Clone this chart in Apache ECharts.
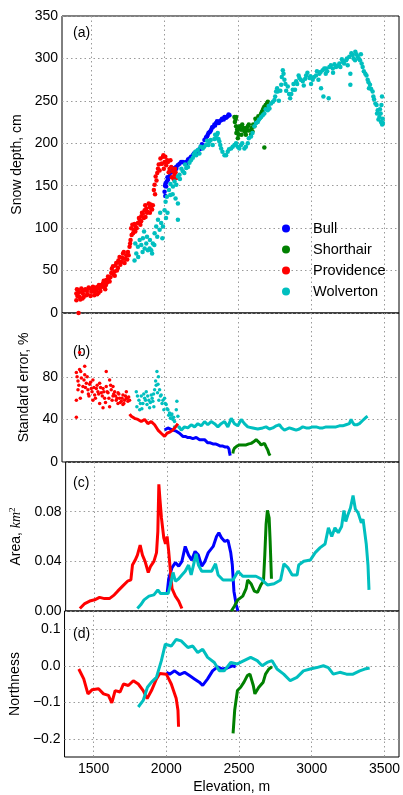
<!DOCTYPE html>
<html>
<head>
<meta charset="utf-8">
<script src="https://cdn.jsdelivr.net/npm/echarts@6.0.0/dist/echarts.min.js"></script>
<style>
  html, body { margin: 0; padding: 0; background: #fff; }
  #chart { width: 403px; height: 795px; }
</style>
</head>
<body>
<div id="chart"></div>
<script>
// elevation ticks shared by all panels
var elevTicks = [1500, 2000, 2500, 3000, 3500];
var sites = ['Bull', 'Shorthair', 'Providence', 'Wolverton'];

// (a) snow depth, cm
var bullDepth = [[2000,143],[2003,150],[2005,138],[2007,153],[2011,149],[2015,155],[2020,160],[2023,157],[2034,161],[2036,165],[2045,166],[2057,168],[2068,171],[2079,172],[2080,170],[2090,174],[2102,176],[2113,178],[2125,178],[2135,177],[2147,178],[2148,176],[2160,181],[2170,182],[2181,184],[2193,186],[2200,188],[2215,190],[2227,189],[2238,193],[2249,194],[2255,199],[2260,198],[2272,204],[2283,207],[2290,208],[2295,210],[2300,212],[2306,213],[2312,214],[2318,216],[2325,219],[2329,219],[2340,222],[2345,221],[2352,224],[2358,226],[2363,225],[2370,224],[2375,226],[2386,227],[2392,229],[2398,229],[2404,228],[2409,231],[2420,230],[2425,231],[2431,232],[2437,234],[2443,233]];
var shorthairDepth = [[2477,231],[2480,225],[2485,228],[2488,220],[2490,212],[2495,216],[2499,212],[2500,206],[2505,210],[2510,218],[2515,220],[2522,216],[2525,210],[2530,222],[2540,218],[2545,214],[2550,214],[2555,210],[2560,218],[2565,215],[2568,220],[2575,222],[2580,215],[2590,210],[2595,218],[2600,214],[2605,222],[2613,220],[2620,229],[2625,225],[2636,227],[2640,232],[2647,231],[2652,230],[2659,235],[2665,237],[2670,239],[2675,241],[2681,243],[2690,245],[2695,244],[2699,247],[2705,249],[2681,195],[2489,231]];
var providenceDepth = [[1398,23],[1398,15],[1402,28],[1405,20],[1409,27],[1413,0],[1415,24],[1420,19],[1425,16],[1432,29],[1436,25],[1440,17],[1443,23],[1448,19],[1455,27],[1460,28],[1466,21],[1470,26],[1475,22],[1482,30],[1489,29],[1495,20],[1500,25],[1505,28],[1511,31],[1515,26],[1520,21],[1523,25],[1528,30],[1534,27],[1540,22],[1545,31],[1550,24],[1552,33],[1557,29],[1562,26],[1568,33],[1575,31],[1580,35],[1585,38],[1591,31],[1595,28],[1600,33],[1602,39],[1608,36],[1614,43],[1618,40],[1625,37],[1630,42],[1636,47],[1640,52],[1648,55],[1652,45],[1659,49],[1660,44],[1665,56],[1670,59],[1675,50],[1682,53],[1685,62],[1690,60],[1693,66],[1698,57],[1705,60],[1710,65],[1716,70],[1720,64],[1722,72],[1727,59],[1733,64],[1739,68],[1745,63],[1750,72],[1755,68],[1761,78],[1765,82],[1768,86],[1772,100],[1775,92],[1780,104],[1785,94],[1789,98],[1795,105],[1800,96],[1802,102],[1810,100],[1818,106],[1825,112],[1830,110],[1835,104],[1840,108],[1841,114],[1846,118],[1852,117],[1858,112],[1864,121],[1868,127],[1870,113],[1875,123],[1880,118],[1886,119],[1892,129],[1898,125],[1900,118],[1905,128],[1909,123],[1915,122],[1920,127],[1927,145],[1932,151],[1935,140],[1939,161],[1945,156],[1950,165],[1955,170],[1960,175],[1966,168],[1972,182],[1977,176],[1982,176],[1989,184],[1992,186],[1995,170],[2000,178],[2005,184],[2011,174],[2018,180],[2023,178],[2028,166],[2034,170],[2040,180],[2045,172],[2050,160],[2057,167],[2062,158],[2068,163],[2070,170],[2075,166],[2080,159]];
var wolvertonDepth = [[1795,62],[1800,82],[1807,70],[1818,78],[1820,66],[1830,86],[1841,80],[1850,72],[1852,88],[1860,96],[1864,76],[1875,82],[1880,90],[1886,74],[1898,76],[1900,86],[1909,74],[1915,70],[1920,82],[1930,80],[1932,94],[1943,102],[1950,90],[1955,110],[1966,98],[1970,118],[1977,106],[1985,88],[1989,102],[2000,121],[2007,131],[2010,112],[2016,137],[2020,118],[2030,145],[2039,139],[2040,152],[2055,140],[2057,149],[2068,155],[2075,135],[2080,151],[2091,129],[2091,110],[2091,161],[2102,163],[2105,158],[2115,170],[2125,167],[2135,165],[2140,175],[2148,171],[2160,172],[2170,177],[2180,180],[2193,183],[2200,187],[2210,190],[2216,186],[2227,192],[2238,188],[2245,196],[2261,194],[2270,196],[2283,198],[2290,203],[2300,198],[2306,202],[2315,204],[2329,198],[2340,205],[2345,210],[2352,206],[2358,210],[2363,212],[2368,205],[2374,202],[2380,198],[2386,194],[2395,190],[2409,186],[2420,186],[2431,190],[2440,193],[2454,194],[2465,196],[2477,198],[2488,200],[2499,196],[2510,194],[2522,198],[2530,200],[2545,194],[2555,196],[2568,200],[2575,206],[2590,208],[2600,212],[2613,220],[2625,224],[2636,225],[2645,228],[2659,231],[2670,233],[2681,235],[2690,240],[2704,239],[2710,244],[2716,241],[2727,247],[2740,249],[2750,251],[2755,255],[2761,261],[2768,265],[2773,261],[2780,250],[2790,262],[2796,269],[2800,278],[2807,286],[2812,282],[2818,275],[2825,270],[2830,262],[2841,267],[2850,258],[2857,253],[2865,258],[2875,263],[2880,270],[2890,263],[2898,273],[2905,270],[2915,280],[2920,277],[2930,275],[2943,273],[2950,268],[2960,276],[2966,280],[2975,283],[2989,277],[2995,279],[3000,270],[3011,275],[3020,278],[3034,280],[3040,285],[3050,275],[3057,282],[3065,284],[3068,265],[3079,286],[3084,255],[3090,288],[3100,282],[3102,288],[3110,285],[3120,253],[3125,290],[3135,292],[3148,288],[3150,283],[3160,293],[3170,290],[3180,291],[3193,294],[3200,290],[3210,299],[3216,296],[3225,294],[3239,298],[3245,300],[3250,292],[3261,302],[3268,282],[3268,269],[3275,306],[3284,304],[3290,300],[3300,298],[3302,308],[3310,305],[3318,302],[3325,300],[3334,298],[3340,305],[3345,294],[3352,290],[3360,285],[3370,282],[3378,280],[3386,275],[3392,272],[3395,265],[3402,269],[3410,264],[3420,261],[3425,255],[3430,252],[3439,247],[3447,245],[3450,235],[3455,239],[3460,228],[3466,231],[3470,240],[3475,235],[3477,225],[3480,245],[3484,255],[3485,222],[3489,229],[3490,224]];

// (b) standard error, %
var bullErr = [[2000,30],[2011,31],[2023,32],[2040,31],[2057,30],[2080,29],[2102,27],[2125,24],[2142,24],[2159,23],[2176,23],[2193,22],[2216,23],[2239,21],[2256,21],[2273,21],[2295,18],[2312,18],[2330,17],[2347,17],[2364,16],[2381,15],[2398,15],[2415,14],[2432,14],[2440,12],[2443,9],[2448,6]];
var shorthairErr = [[2466,8],[2470,11],[2477,13],[2494,15],[2511,16],[2534,16],[2557,16],[2575,17],[2591,17.5],[2608,19],[2625,21],[2636,21],[2648,18],[2659,16],[2670,17],[2682,17.5],[2694,14],[2705,11],[2712,8],[2720,6]];
var providenceErrCloud = [[1398,84],[1398,58],[1398,42],[1403,80],[1409,76],[1409,68],[1415,72],[1420,87],[1420,103],[1425,60],[1428,85],[1432,79],[1438,66],[1443,71],[1450,77],[1455,82],[1455,90],[1460,70],[1466,74],[1472,80],[1477,68],[1480,64],[1484,62],[1489,73],[1495,75],[1500,69],[1505,66],[1511,77],[1511,58],[1518,70],[1523,63],[1528,60],[1534,69],[1540,72],[1545,66],[1550,64],[1557,74],[1557,55],[1563,70],[1568,65],[1575,62],[1580,69],[1580,51],[1585,66],[1591,60],[1597,56],[1602,71],[1602,85],[1608,66],[1614,65],[1620,60],[1625,77],[1625,52],[1632,72],[1636,68],[1642,58],[1648,62],[1648,71],[1653,64],[1659,66],[1665,62],[1670,58],[1676,60],[1682,65],[1682,55],[1688,64],[1693,60],[1698,56],[1705,57],[1710,60],[1716,63],[1716,54],[1722,55],[1727,58],[1733,62],[1739,60],[1739,66],[1745,60],[1750,57],[1755,61],[1761,58]];
var providenceErrLine = [[1761,45],[1773,43],[1795,41],[1818,40],[1841,38],[1864,40],[1886,36],[1909,38],[1932,35],[1955,30],[1977,27],[2000,24],[2016,27],[2034,28],[2057,30],[2075,33],[2091,36]];
var wolvertonErrCloud = [[1807,66],[1811,52],[1815,62],[1825,58],[1830,49],[1835,55],[1841,62],[1845,50],[1852,55],[1858,64],[1864,60],[1870,58],[1875,66],[1880,54],[1885,62],[1893,58],[1898,51],[1903,56],[1909,63],[1915,60],[1920,57],[1925,64],[1927,52],[1932,68],[1939,76],[1943,72],[1948,85],[1952,65],[1955,73],[1958,80],[1961,58],[1966,68],[1972,62],[1977,63],[1983,55],[1989,58],[1995,49],[2000,60],[2005,55],[2011,54],[2017,50],[2023,49],[2028,44],[2034,46],[2040,41],[2045,44],[2050,45],[2057,40],[2062,42],[2068,38],[2068,33],[2080,49],[2084,57],[2091,43],[2098,33]];
var wolvertonErrLine = [[2098,33],[2114,30],[2136,33],[2159,32],[2182,35],[2205,33],[2227,36],[2250,34],[2273,38],[2295,35],[2318,38],[2341,36],[2364,33],[2386,36],[2409,38],[2432,33],[2455,41],[2477,36],[2500,34],[2523,40],[2545,36],[2568,33],[2602,32],[2636,31],[2648,30],[2670,32],[2693,33],[2716,31],[2739,32],[2762,34],[2784,35],[2800,32],[2818,30],[2852,32],[2875,31],[2898,30],[2920,31],[2943,33],[2966,32],[2989,32],[3011,33],[3034,33],[3057,32],[3080,32],[3103,33],[3125,33],[3148,33],[3170,33],[3193,34],[3216,34],[3238,35],[3261,36],[3273,40],[3284,37],[3295,35],[3313,35],[3330,36],[3341,37],[3352,39],[3364,40],[3375,42],[3386,43]];

// (c) area, km^2
var bullArea = [[2000,0.014],[2011,0.026],[2034,0.035],[2057,0.039],[2080,0.036],[2102,0.040],[2125,0.052],[2148,0.045],[2170,0.041],[2193,0.048],[2216,0.045],[2239,0.036],[2261,0.040],[2284,0.047],[2318,0.052],[2341,0.060],[2357,0.063],[2375,0.059],[2398,0.056],[2420,0.057],[2439,0.047],[2450,0.037],[2461,0.016],[2477,0.005],[2489,0.0]];
var shorthairArea = [[2443,0.0],[2465,0.004],[2488,0.009],[2522,0.012],[2545,0.018],[2556,0.025],[2579,0.022],[2602,0.016],[2624,0.015],[2647,0.021],[2665,0.024],[2674,0.045],[2683,0.070],[2692,0.081],[2704,0.075],[2711,0.056],[2720,0.026]];
var providenceArea = [[1398,0.002],[1432,0.006],[1466,0.008],[1500,0.009],[1534,0.011],[1568,0.010],[1602,0.010],[1636,0.013],[1659,0.016],[1693,0.020],[1727,0.024],[1750,0.025],[1761,0.037],[1780,0.041],[1795,0.045],[1814,0.053],[1830,0.045],[1848,0.040],[1870,0.031],[1886,0.036],[1909,0.040],[1927,0.047],[1936,0.064],[1943,0.102],[1950,0.091],[1961,0.075],[1977,0.059],[1989,0.054],[2000,0.060],[2011,0.048],[2023,0.032],[2034,0.018],[2057,0.012],[2080,0.008],[2102,0.002]];
var wolvertonArea = [[1795,0.002],[1818,0.005],[1841,0.009],[1875,0.012],[1909,0.013],[1936,0.017],[1955,0.014],[1989,0.014],[2007,0.014],[2023,0.021],[2041,0.031],[2057,0.024],[2080,0.026],[2102,0.029],[2125,0.032],[2148,0.037],[2166,0.029],[2182,0.037],[2200,0.046],[2216,0.037],[2239,0.032],[2273,0.032],[2307,0.032],[2334,0.038],[2352,0.029],[2386,0.025],[2420,0.025],[2455,0.025],[2489,0.032],[2522,0.028],[2568,0.028],[2613,0.028],[2647,0.026],[2692,0.021],[2738,0.022],[2783,0.025],[2806,0.038],[2833,0.035],[2863,0.029],[2897,0.029],[2908,0.037],[2943,0.040],[2988,0.041],[3022,0.047],[3056,0.051],[3090,0.054],[3113,0.067],[3136,0.060],[3158,0.067],[3181,0.063],[3204,0.068],[3220,0.081],[3233,0.072],[3249,0.078],[3265,0.083],[3283,0.093],[3299,0.082],[3318,0.079],[3340,0.071],[3352,0.074],[3374,0.054],[3386,0.037],[3393,0.017]];

// (d) northness
var bullNorth = [[2000,-0.018],[2023,-0.023],[2057,-0.014],[2091,-0.024],[2125,-0.018],[2159,-0.027],[2193,-0.036],[2227,-0.045],[2250,-0.054],[2284,-0.036],[2318,-0.014],[2352,-0.003],[2386,-0.009],[2420,-0.006],[2455,0.0],[2477,-0.003]];
var shorthairNorth = [[2459,-0.185],[2470,-0.122],[2489,-0.068],[2511,-0.059],[2534,-0.045],[2557,-0.027],[2575,-0.023],[2598,-0.054],[2609,-0.077],[2636,-0.059],[2666,-0.045],[2682,-0.023],[2705,-0.009],[2727,-0.003]];
var providenceNorth = [[1398,-0.009],[1432,-0.036],[1461,-0.077],[1489,-0.066],[1534,-0.063],[1568,-0.077],[1602,-0.081],[1625,-0.102],[1648,-0.068],[1682,-0.072],[1705,-0.05],[1739,-0.054],[1773,-0.041],[1807,-0.05],[1841,-0.068],[1868,-0.09],[1898,-0.068],[1932,-0.036],[1955,-0.021],[2000,-0.023],[2034,-0.05],[2068,-0.09],[2080,-0.122],[2084,-0.167]];
var wolvertonNorth = [[1807,-0.113],[1841,-0.095],[1870,-0.059],[1898,-0.045],[1932,-0.032],[1966,0.014],[1993,0.059],[2034,0.054],[2068,0.072],[2102,0.068],[2148,0.05],[2182,0.054],[2216,0.036],[2250,0.045],[2284,0.023],[2330,0.009],[2364,-0.014],[2398,-0.014],[2443,0.009],[2489,0.005],[2534,0.014],[2580,0.023],[2625,0.014],[2659,0.0],[2693,0.009],[2727,0.014],[2761,-0.009],[2807,-0.023],[2852,-0.041],[2898,-0.032],[2943,-0.014],[2989,-0.009],[3034,-0.005],[3080,0.0],[3114,-0.005],[3148,-0.023],[3193,-0.018],[3239,-0.023],[3284,-0.023],[3330,-0.014],[3364,-0.009],[3398,-0.006]];

var colors = { Bull: '#0000ff', Shorthair: '#008000', Providence: '#ff0000', Wolverton: '#00bfbf' };
var font = 'Liberation Sans, Arial, Helvetica, sans-serif';

var chart = echarts.init(document.getElementById('chart'));

var gridLine = { show: true, lineStyle: { color: '#9a9a9a', type: [1.5, 3], width: 1 } };

function scat(name, data, g, size) {
  return { name: name, type: 'scatter', xAxisIndex: g, yAxisIndex: g, data: data,
    symbol: 'circle', symbolSize: size, itemStyle: { color: colors[name], opacity: 1 }, silent: true };
}
function line(name, data, g) {
  return { name: name, type: 'line', xAxisIndex: g, yAxisIndex: g, data: data, symbol: 'none',
    lineStyle: { color: colors[name], width: 3 }, itemStyle: { color: colors[name] }, silent: true };
}

var tops = [16, 313, 462, 611];
var heights = [297, 149, 149, 149];
var grids = tops.map(function (t, i) {
  return { left: 62, top: t, width: 337, height: heights[i], show: true, borderColor: '#000', borderWidth: 1 };
});

var xAxes = [0, 1, 2, 3].map(function (i) {
  return {
    type: 'value', gridIndex: i, min: 1300, max: 3600,
    axisLine: { show: false },
    axisTick: { show: false, customValues: elevTicks },
    axisLabel: { show: i === 3, customValues: elevTicks, color: '#000', fontSize: 14, fontFamily: font, margin: 5,
      formatter: function (v) { return String(v); } },
    splitLine: gridLine,
    name: i === 3 ? 'Elevation, m' : '',
    nameLocation: 'middle', nameGap: 23,
    nameTextStyle: { color: '#000', fontSize: 14, fontFamily: font }
  };
});

var labelStyle = { color: '#000', fontSize: 14, fontFamily: font, margin: 4 };

var yAxes = [
  { type: 'value', gridIndex: 0, min: 0, max: 350, interval: 50,
    axisLabel: labelStyle, name: 'Snow depth, cm' },
  { type: 'value', gridIndex: 1, min: 0, max: 140,
    axisTick: { show: false, customValues: [0, 40, 80] },
    axisLabel: Object.assign({ customValues: [0, 40, 80] }, labelStyle), name: 'Standard error, %' },
  { type: 'value', gridIndex: 2, min: 0, max: 0.12,
    axisTick: { show: false, customValues: [0, 0.04, 0.08] },
    axisLabel: Object.assign({ customValues: [0, 0.04, 0.08], formatter: function (v) { return v.toFixed(2); } }, labelStyle),
    name: '{a|Area, }{k|km}{s|2}' },
  { type: 'value', gridIndex: 3, min: -0.25, max: 0.15,
    axisTick: { show: false, customValues: [-0.2, -0.1, 0, 0.1] },
    axisLabel: Object.assign({ customValues: [-0.2, -0.1, 0, 0.1], formatter: function (v) {
      return (v < 0 ? '\u2212' : '') + Math.abs(v).toFixed(1); } }, labelStyle),
    name: 'Northness' }
].map(function (a) {
  a.axisLine = { show: false };
  if (!a.axisTick) a.axisTick = { show: false };
  a.splitLine = gridLine;
  a.nameLocation = 'middle';
  a.nameGap = 30;
  a.nameTextStyle = {
    color: '#000', fontSize: 14, fontFamily: font,
    rich: {
      a: { fontSize: 14, fontFamily: font, color: '#000' },
      k: { fontSize: 14, fontFamily: 'Liberation Serif, serif', fontStyle: 'italic', color: '#000' },
      s: { fontSize: 9, fontFamily: 'Liberation Serif, serif', color: '#000', padding: [0, 0, 8, 0] }
    }
  };
  return a;
});

var series = [
  scat('Bull', bullDepth, 0, 4.5),
  scat('Shorthair', shorthairDepth, 0, 4.5),
  scat('Providence', providenceDepth, 0, 4.5),
  scat('Wolverton', wolvertonDepth, 0, 4.5),
  line('Bull', bullErr, 1),
  line('Shorthair', shorthairErr, 1),
  scat('Providence', providenceErrCloud, 1, 3.5),
  line('Providence', providenceErrLine, 1),
  scat('Wolverton', wolvertonErrCloud, 1, 3.5),
  line('Wolverton', wolvertonErrLine, 1),
  line('Bull', bullArea, 2),
  line('Shorthair', shorthairArea, 2),
  line('Providence', providenceArea, 2),
  line('Wolverton', wolvertonArea, 2),
  line('Bull', bullNorth, 3),
  line('Shorthair', shorthairNorth, 3),
  line('Providence', providenceNorth, 3),
  line('Wolverton', wolvertonNorth, 3)
];

function panelLabel(t, top) {
  return { type: 'text', left: 73, top: top, style: { text: t, fontSize: 14, fontFamily: font, fill: '#000' } };
}

chart.setOption({
  animation: false,
  grid: grids,
  xAxis: xAxes,
  yAxis: yAxes,
  legend: {
    data: sites, orient: 'vertical', left: 277, top: 216,
    icon: 'circle', itemWidth: 44, itemHeight: 8, itemGap: 6,
    textStyle: { color: '#000', fontSize: 14.5, fontFamily: font }
  },
  graphic: [panelLabel('(a)', 26), panelLabel('(b)', 345), panelLabel('(c)', 476), panelLabel('(d)', 627)],
  series: series
});
</script>
</body>
</html>
